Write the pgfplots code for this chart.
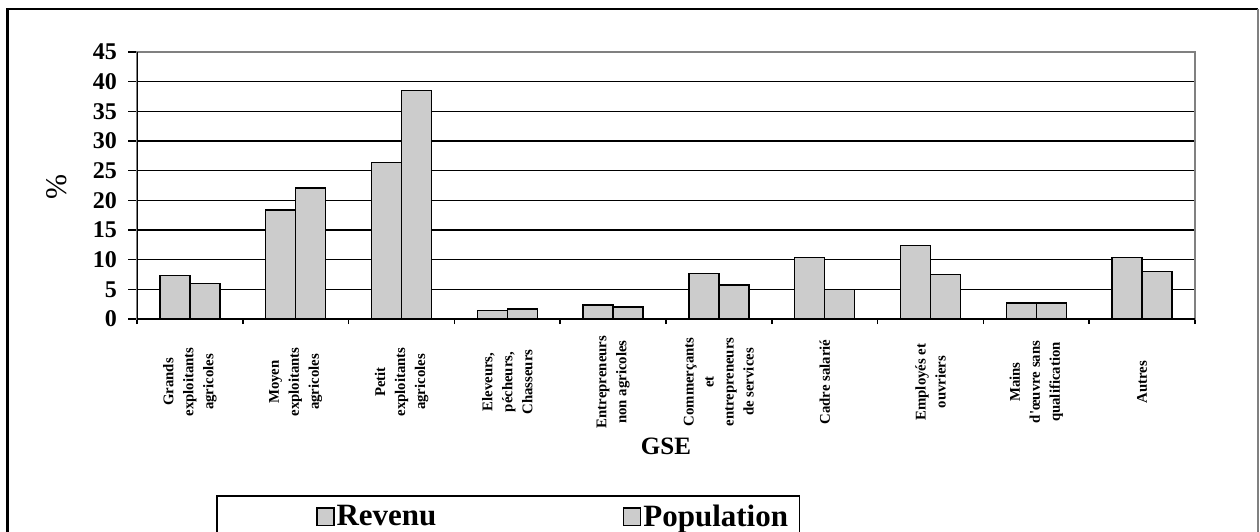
\documentclass[border=0pt]{standalone}
\usepackage{pgfplots}
\pgfplotsset{compat=1.18}
\usepackage{fontspec}
\setmainfont{Liberation Serif}
\definecolor{barfill}{HTML}{CCCCCC}
\definecolor{framegray}{HTML}{808080}
\begin{document}
\begin{tikzpicture}[x=1pt,y=1pt]
\useasboundingbox (0,0) rectangle (630,265.5);
\draw[black, line width=1.2pt] (3.75,-5) -- (3.75,261) -- (629,261);
\draw[framegray, line width=0.7pt] (629,261) -- (629,-5);
\begin{axis}[
  at={(68.5pt,106pt)}, anchor=south west,
  scale only axis, width=529pt, height=133.5pt,
  ybar=0pt, bar width=15pt,
  xmin=-0.5, xmax=9.5, ymin=0, ymax=45,
  ytick={0,5,...,45},
  xtick={0,...,9},
  minor xtick={-0.5,0.5,...,9.5},
  xticklabels={
    {Grands\\exploitants\\agricoles},
    {Moyen\\exploitants\\agricoles},
    {Petit\\exploitants\\agricoles},
    {Eleveurs,\\pécheurs,\\Chasseurs},
    {Entrepreneurs\\non agricoles},
    {Commerçants\\et\\entrepreneurs\\de services},
    {Cadre salarié},
    {Employés et\\ouvriers},
    {Mains\\d\textquotesingle œuvre sans\\qualification},
    {Autres}},
  tick align=outside,
  xtick pos=bottom, ytick pos=left,
  major x tick style={draw=none},
  minor x tick style={black, line width=0.75pt},
  minor tick length=2.5pt,
  major y tick style={black, line width=0.75pt},
  major tick length=4.5pt,
  ymajorgrids,
  major grid style={black, line width=0.75pt},
  axis line style={framegray, line width=0.9pt},
  /pgf/number format/assume math mode=true,
  yticklabel style={font=\bfseries\fontsize{12}{14}\selectfont, xshift=-2pt},
  xticklabel style={yshift=-27pt, rotate=90, anchor=center, align=center,
    font=\bfseries\fontsize{7.4}{10}\selectfont},
  xlabel={GSE},
  xlabel style={at={(axis description cs:0.5,-0.4757)}, anchor=center,
    font=\bfseries\fontsize{12.5}{14}\selectfont},
  ylabel={\%},
  ylabel style={at={(axis description cs:-0.0756,0.494)}, anchor=center,
    font=\fontsize{15}{17}\selectfont},
  legend columns=2,
  legend style={at={(axis description cs:0.0747,-0.659)}, anchor=north west,
    draw=black, line width=0.8pt, inner xsep=0pt, inner ysep=4.5pt,
    column sep=0pt,
    nodes={inner xsep=1pt, inner ysep=0pt, font=\bfseries\fontsize{15.5}{18}\selectfont}},
]
\addplot[fill=barfill, draw=black, line width=0.75pt,
  legend image code/.code={\path[draw=none, fill=none] (-50pt,0pt) -- (0pt,0pt);
    \draw[fill=barfill, draw=black, line width=0.75pt] (0pt,-4.25pt) rectangle (8.5pt,4.5pt);}]
  coordinates {(0,7.3) (1,18.4) (2,26.4) (3,1.4) (4,2.35) (5,7.7) (6,10.4) (7,12.4) (8,2.7) (9,10.4)};
\addlegendentry{\makebox[92.5pt][l]{Revenu}}
\addplot[fill=barfill, draw=black, line width=0.75pt,
  legend image code/.code={\path[draw=none, fill=none] (-50pt,0pt) -- (0pt,0pt);
    \draw[fill=barfill, draw=black, line width=0.75pt] (0pt,-4.25pt) rectangle (8.5pt,4.5pt);}]
  coordinates {(0,6.0) (1,22.1) (2,38.5) (3,1.7) (4,2.0) (5,5.7) (6,5.0) (7,7.5) (8,2.7) (9,8.0)};
\addlegendentry{\makebox[77pt][l]{Population}}
\draw[black, line width=0.9pt] (rel axis cs:0,1) -- (rel axis cs:0,0) -- (rel axis cs:1,0);
\end{axis}
\end{tikzpicture}
\end{document}
